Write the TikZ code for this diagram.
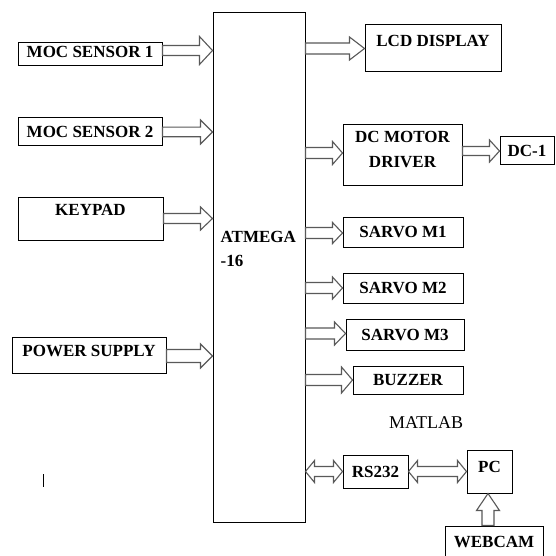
\documentclass[tikz,border=0pt]{standalone}
\usepackage{fontspec}
\setmainfont{Liberation Serif}
\usetikzlibrary{calc}
\tikzset{
  ashaft/.store in=\arrShaft, ahead/.store in=\arrHead, alen/.store in=\arrLen,
  ashaft=5.5pt, ahead=12pt, alen=12pt,
  blk/.style={draw=black!65, line width=1.1pt, line join=miter},
  harr/.style={blk, to path={let \p1=(\tikztostart), \p2=(\tikztotarget) in
    (\x1,\y1+\arrShaft) -- (\x2-\arrLen,\y1+\arrShaft) -- (\x2-\arrLen,\y1+\arrHead)
    -- (\x2,\y1) -- (\x2-\arrLen,\y1-\arrHead) -- (\x2-\arrLen,\y1-\arrShaft)
    -- (\x1,\y1-\arrShaft) -- cycle}},
  darr/.style={blk, to path={let \p1=(\tikztostart), \p2=(\tikztotarget) in
    (\x1,\y1) -- (\x1+\arrLen,\y1+\arrHead) -- (\x1+\arrLen,\y1+\arrShaft)
    -- (\x2-\arrLen,\y1+\arrShaft) -- (\x2-\arrLen,\y1+\arrHead) -- (\x2,\y1)
    -- (\x2-\arrLen,\y1-\arrHead) -- (\x2-\arrLen,\y1-\arrShaft)
    -- (\x1+\arrLen,\y1-\arrShaft) -- (\x1+\arrLen,\y1-\arrHead) -- cycle}},
  varr/.style={blk, to path={let \p1=(\tikztostart), \p2=(\tikztotarget) in
    (\x1+\arrShaft,\y1) -- (\x1+\arrShaft,\y2-\arrLen) -- (\x1+\arrHead,\y2-\arrLen)
    -- (\x1,\y2) -- (\x1-\arrHead,\y2-\arrLen) -- (\x1-\arrShaft,\y2-\arrLen)
    -- (\x1-\arrShaft,\y1) -- cycle}},
  box/.style={draw=black, line width=1pt, inner sep=0pt, font=\bfseries\fontsize{17pt}{20pt}\selectfont,
    text height=11.5pt, text depth=0pt},
  plain/.style={font=\fontsize{18pt}{21pt}\selectfont, inner sep=0pt},
}
\begin{document}
\begin{tikzpicture}[x=1pt,y=-1pt]
\clip (0,0) rectangle (555,556);
\fill[white] (0,0) rectangle (555,556);

% microcontroller
\node[box, minimum width=92pt, minimum height=509pt,
  label={[anchor=west, align=left, xshift=8pt, yshift=18.5pt, inner sep=0pt,
          font=\bfseries\fontsize{17pt}{23.5pt}\selectfont]west:ATMEGA\\-16}] (atm) at (259,267.5) {};

% inputs
\node[box, minimum width=144pt, minimum height=23pt, text depth=6pt] (m1) at (90,54.5) {MOC SENSOR 1};
\node[box, minimum width=144pt, minimum height=28pt] (m2) at (90,132) {MOC SENSOR 2};
\node[box, minimum width=145pt, minimum height=43pt, text depth=17pt] (kp) at (90.5,218.5) {KEYPAD};
\node[box, minimum width=154pt, minimum height=36pt, text depth=8pt] (ps) at (89,355) {POWER SUPPLY};

% outputs
\node[box, minimum width=136pt, minimum height=47pt, text depth=15pt] (lcd) at (433,48.5) {LCD DISPLAY};
\node[box, minimum width=119pt, minimum height=60pt, text height=0pt,
  label={[align=center, yshift=5pt, inner sep=0pt,
          font=\bfseries\fontsize{17pt}{25pt}\selectfont]center:DC MOTOR\\DRIVER}] (dcm) at (402.5,155) {};
\node[box, minimum width=54pt, minimum height=28pt] (dc1) at (527,151) {DC-1};
\node[box, minimum width=120pt, minimum height=30pt] (s1) at (403,232) {SARVO M1};
\node[box, minimum width=120pt, minimum height=30pt] (s2) at (403,288) {SARVO M2};
\node[box, minimum width=118pt, minimum height=31pt] (s3) at (405,334.5) {SARVO M3};
\node[box, minimum width=110pt, minimum height=28pt] (bz) at (408,380) {BUZZER};

\node[plain] (mat) at (426,423) {MATLAB};

\node[box, minimum width=65pt, minimum height=33pt] (rs) at (375.5,471.5) {RS232};
\node[box, minimum width=45pt, minimum height=43pt, text depth=9pt] (pc) at (489.5,471.5) {PC};
\node[box, minimum width=98pt, minimum height=44pt, text depth=12pt] (wc) at (494,548) {WEBCAM};

% stray mark
\draw[line width=0.9pt] (43,474) -- (43,487);

% input arrows
\draw[harr, ashaft=5pt, ahead=14pt, alen=13pt] ([yshift=4pt]m1.east) to ([yshift=4pt]m1.east -| atm.west);
\draw[harr, ashaft=4.8pt, ahead=12pt] (m2.east) to (m2.east -| atm.west);
\draw[harr, ashaft=5pt, ahead=11.5pt] (kp.east) to (kp.east -| atm.west);
\draw[harr, ashaft=6.5pt, ahead=12pt] ([yshift=-1pt]ps.east) to ([yshift=-1pt]ps.east -| atm.west);

% output arrows
\draw[harr, ahead=11.5pt, alen=15pt] (atm.east |- lcd.west) to (lcd.west);
\draw[harr, ahead=11.5pt, alen=10pt] ([yshift=2pt]atm.east |- dcm.west) to ([yshift=2pt]dcm.west);
\draw[harr, ashaft=4.5pt, ahead=11pt, alen=10pt] (dcm.east |- dc1.west) to (dc1.west);
\draw[harr, ahead=10.5pt, alen=10pt] ([yshift=-1pt]atm.east |- s1.west) to ([yshift=-1pt]s1.west);
\draw[harr, ahead=11pt, alen=10pt] (atm.east |- s2.west) to (s2.west);
\draw[harr, ahead=11.5pt, alen=11pt] ([yshift=1pt]atm.east |- s3.west) to ([yshift=1pt]s3.west);
\draw[harr, ahead=13pt, alen=11pt] (atm.east |- bz.west) to (bz.west);

% serial link
\draw[darr, ashaft=5pt, ahead=11pt, alen=9pt] (atm.east |- rs.west) to (rs.west);
\draw[darr, ashaft=5pt, ahead=11pt, alen=9pt] (rs.east) to (rs.east -| pc.west);
\draw[varr, ashaft=6pt, ahead=11.5pt, alen=17pt] ([xshift=-1.5pt]pc.south |- wc.north) to ([xshift=-1.5pt]pc.south);
\end{tikzpicture}
\end{document}
